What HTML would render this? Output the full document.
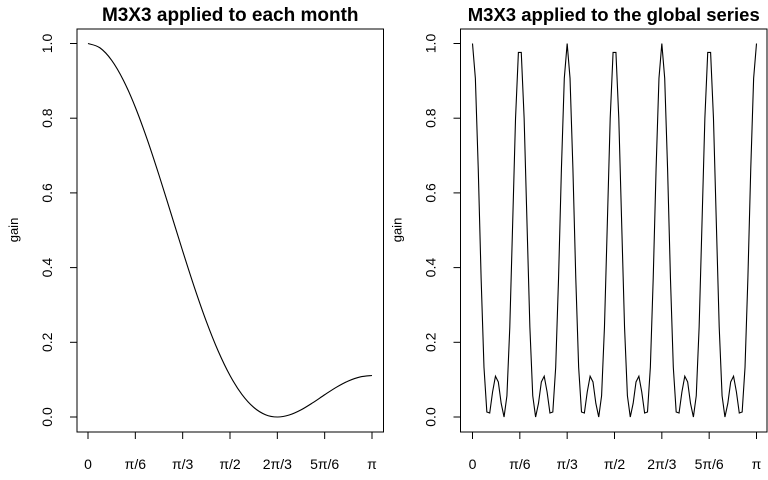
<!DOCTYPE html>
<html><head><meta charset="utf-8"><style>
html,body{margin:0;padding:0;background:#fff;}
svg{display:block;font-family:"Liberation Sans",Arial,sans-serif;}
</style></head><body>
<svg id="c" width="768" height="480" viewBox="0 0 768 480"></svg>
<script>
const tickLabels = ["0","π/6","π/3","π/2","2π/3","5π/6","π"];
const tickValues = [0,1/6,1/3,1/2,2/3,5/6,1];
const yTicks = [0,0.2,0.4,0.6,0.8,1.0];
const yTickLabels = ["0.0","0.2","0.4","0.6","0.8","1.0"];
// left: gain at w = k*pi/24 (k=0..24)
const monthGain = [1,0.98862,0.95508,0.90108,0.82934,0.74345,0.64760,0.54638,0.44444,0.34628,0.25591,0.17670,0.11111,0.06067,0.02585,0.00612,0,0.00526,0.01906,0.03825,0.05954,0.07985,0.09648,0.10734,0.11111];
// right: gain at w = k*pi/99 (k=0..99)
const globalGain = [
1,0.90674,0.66551,0.37244,0.13326,0.01330,0.01066,0.06718,0.10911,0.09384,0.03637,0,0.05686,0.24059,0.51845,0.79954,0.97605,
0.97605,0.79954,0.51845,0.24059,0.05686,0,0.03637,0.09384,0.10911,0.06718,0.01066,0.01330,0.13326,0.37244,0.66551,0.90674,
1,0.90674,0.66551,0.37244,0.13326,0.01330,0.01066,0.06718,0.10911,0.09384,0.03637,0,0.05686,0.24059,0.51845,0.79954,0.97605,
0.97605,0.79954,0.51845,0.24059,0.05686,0,0.03637,0.09384,0.10911,0.06718,0.01066,0.01330,0.13326,0.37244,0.66551,0.90674,
1,0.90674,0.66551,0.37244,0.13326,0.01330,0.01066,0.06718,0.10911,0.09384,0.03637,0,0.05686,0.24059,0.51845,0.79954,0.97605,
0.97605,0.79954,0.51845,0.24059,0.05686,0,0.03637,0.09384,0.10911,0.06718,0.01066,0.01330,0.13326,0.37244,0.66551,0.90674,1];
const svg=document.getElementById('c');
const NS="http://www.w3.org/2000/svg";
function mk(tag,attrs,parent){const e=document.createElementNS(NS,tag);for(const k in attrs)e.setAttribute(k,attrs[k]);(parent||svg).appendChild(e);return e;}
function panel(p){
  const g=mk('g',{});
  
  
  const sx=f=>p.x0+f*(p.x1-p.x0);
  const sy=v=>417-v*(417-43.5);
  const box=mk('rect',{x:p.bx0,y:29,width:p.bx1-p.bx0,height:403,fill:'none',stroke:'#000','stroke-width':1},g);
  
  const t=mk('text',{x:(p.bx0+p.bx1)/2,y:21,'text-anchor':'middle','font-size':p.tsize,'font-weight':'bold'},g);
  t.textContent=p.title;
  
  const yl=mk('text',{transform:`translate(${p.bx0-59},230) rotate(-90)`,'text-anchor':'middle','font-size':'13'},g);
  yl.textContent='gain';
  
  const xa=mk('g',{},g);
  mk('line',{x1:sx(0),x2:sx(1),y1:432,y2:432,stroke:'#000'},xa);
  tickValues.forEach((v,i)=>{
    mk('line',{x1:sx(v),x2:sx(v),y1:432,y2:439,stroke:'#000'},xa);
    const tt=mk('text',{x:sx(v),y:469,'text-anchor':'middle','font-size':'14'},xa);
    tt.textContent=tickLabels[i];
    
  });
  const ya=mk('g',{},g);
  mk('line',{x1:p.bx0,x2:p.bx0,y1:sy(0),y2:sy(1),stroke:'#000'},ya);
  yTicks.forEach((v,i)=>{
    mk('line',{x1:p.bx0-7,x2:p.bx0,y1:sy(v),y2:sy(v),stroke:'#000'},ya);
    const tt=mk('text',{transform:`translate(${p.bx0-25},${sy(v)}) rotate(-90)`,'text-anchor':'middle','font-size':'14'},ya);
    tt.textContent=yTickLabels[i];
    
  });
  const n=p.data.length-1;
  const pts=p.data.map((v,i)=>[sx(i/n),sy(v)]);
  let d;
  if(p.smooth){
    d=`M${pts[0][0]},${pts[0][1]}`;
    for(let i=0;i<pts.length-1;i++){
      const p0=pts[Math.max(i-1,0)],p1=pts[i],p2=pts[i+1],p3=pts[Math.min(i+2,pts.length-1)];
      d+=` C${p1[0]+(p2[0]-p0[0])/6},${p1[1]+(p2[1]-p0[1])/6} ${p2[0]-(p3[0]-p1[0])/6},${p2[1]-(p3[1]-p1[1])/6} ${p2[0]},${p2[1]}`;
    }
  } else d='M'+pts.map(q=>q.join(',')).join(' L');
  const path=mk('path',{d:d,fill:'none',stroke:'#000','stroke-width':1.1},g);
  
}
panel({name:'panel-each-month',title:'M3X3 applied to each month',bx0:77,bx1:383.5,x0:88,x1:372,data:monthGain,smooth:true,tsize:19});
panel({name:'panel-global-series',title:'M3X3 applied to the global series',bx0:460.5,bx1:767,x0:472.5,x1:756.5,data:globalGain,smooth:false,tsize:18.5});
</script>
</body></html>
